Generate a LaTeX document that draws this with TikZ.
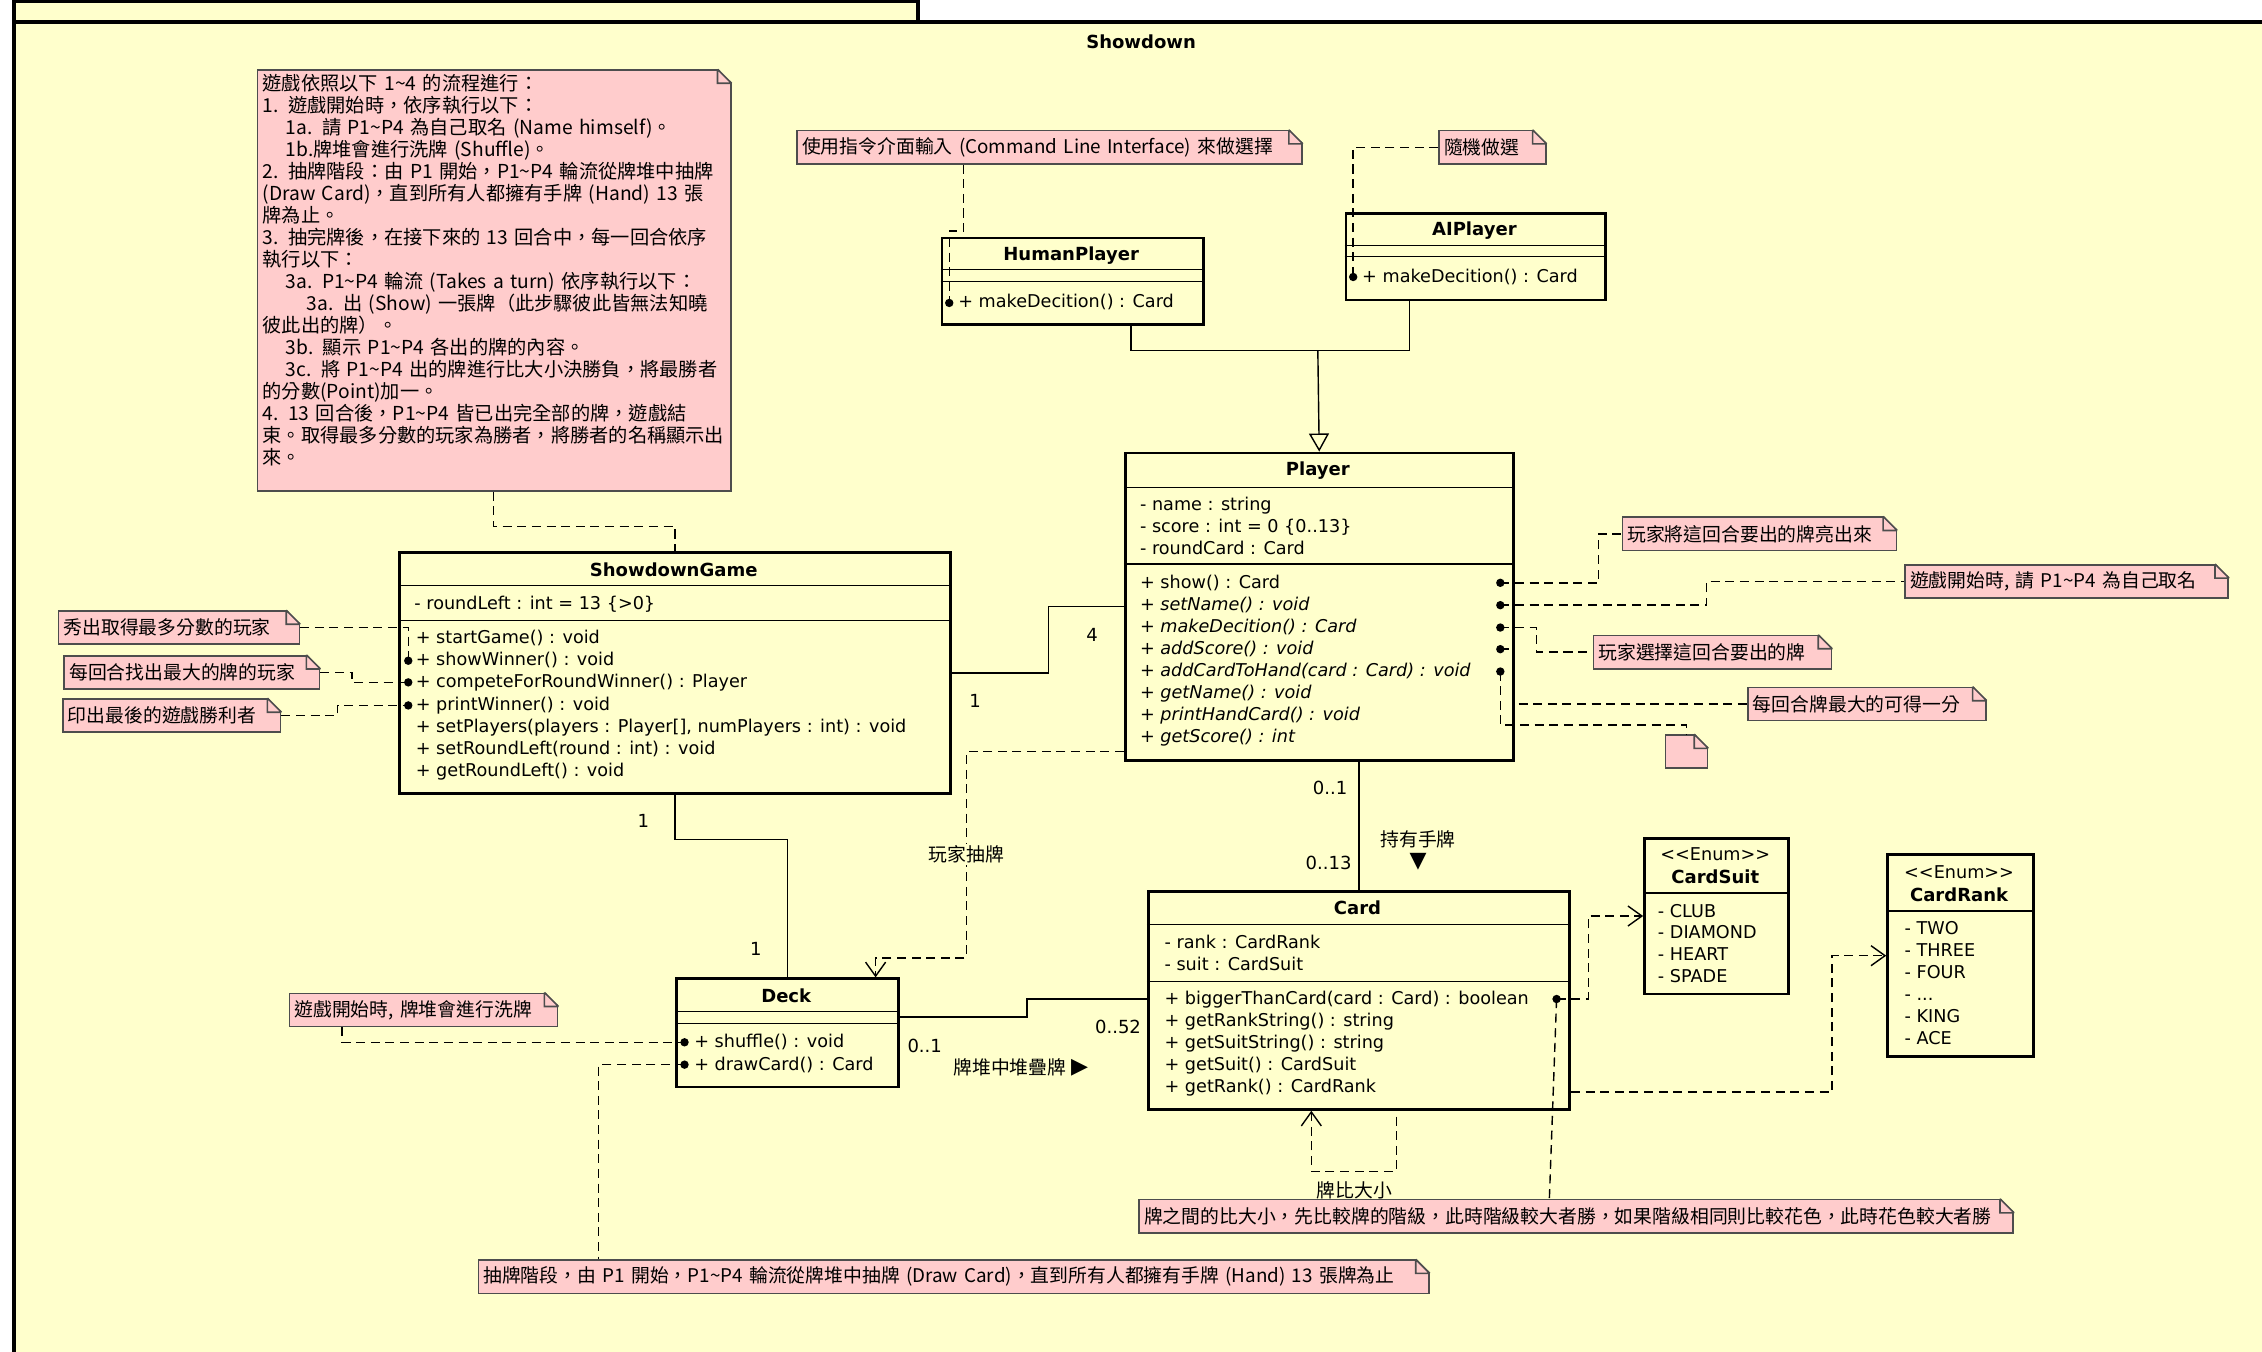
\documentclass[tikz,border=0pt]{standalone}
\usepackage{fontspec}
\setmainfont{Noto Sans CJK TC}
\newfontfamily\umlfont{DejaVu Sans}
\newfontfamily\symfont{DejaVu Sans}
\usepackage{tikz}
\usetikzlibrary{positioning, calc, arrows.meta}
\usepackage{xcolor}
\definecolor{umlbg}{HTML}{FFFFCC}
\definecolor{notefill}{HTML}{FFCCCC}
\definecolor{noteline}{HTML}{4D4D4D}
\newcommand{\ux}{0.72pt}
\newcommand{\tld}{\textasciitilde}
\newcommand{\dogear}[1]{%
  \fill[umlbg] ($(#1.north east)+(-7pt,0.6pt)$) -- ($(#1.north east)+(0.6pt,0.6pt)$) -- ($(#1.north east)+(0.6pt,-7pt)$) -- cycle;
  \draw[noteline, line width=0.8pt] ($(#1.north east)+(-7pt,0pt)$) -- ($(#1.north east)+(0pt,-7pt)$)
    ($(#1.north east)+(-7pt,0pt)$) -- ++(0pt,-7pt) -- ++(7pt,0pt);}

\begin{document}
\begin{tikzpicture}[
    x=0.72pt, y=-0.72pt,
    every node/.style={font=\fontsize{9.4}{11}\selectfont},
    umlclass/.style={draw, line width=1.4pt, fill=umlbg, anchor=north west, inner sep=0pt},
    compsep/.style={line width=0.6pt},
    classname/.style={font=\umlfont\fontsize{9}{11}\selectfont\bfseries},
    member/.style={anchor=mid west, inner sep=0pt, font=\umlfont\fontsize{8.8}{11}\selectfont},
    dot/.style={circle, fill, inner sep=0pt, minimum size=4.2pt},
    note/.style={draw=noteline, line width=0.8pt, fill=notefill, anchor=north west, inner xsep=2.5pt, inner ysep=1pt, align=left, minimum height=23*\ux},
    link/.style={line width=0.7pt},
    attach/.style={line width=0.7pt, dash pattern=on 4.5pt off 2.8pt},
    depend/.style={attach, -{Straight Barb[length=7pt, width=10pt]}},
    lbl/.style={inner sep=1pt},
    mult/.style={inner sep=1pt, font=\umlfont\fontsize{9}{11}\selectfont},
    tri/.style={inner sep=0pt, font=\symfont\fontsize{11}{11}\selectfont},
]
\useasboundingbox (0,0) rectangle (1568,937);
\fill[white] (0,0) rectangle (1568,937);

% Package frame
\draw[line width=2pt, fill=umlbg] (10,1) rectangle (636,15);
\draw[line width=2pt, fill=umlbg] (10,15) rectangle (1600,960);
\node[classname] (frametitle) at (791,29) {Showdown};

% Notes
\node[note, text width=328*\ux-5pt, inner ysep=2pt, font=\fontsize{9.6}{11}\selectfont] (nrules) at (178,48) {遊戲依照以下 1\tld4 的流程進行：\\
1. 遊戲開始時，依序執行以下：\\
\hspace*{11.5pt}1a. 請 P1\tld P4 為自己取名 (Name himself)。\\
\hspace*{11.5pt}1b.牌堆會進行洗牌 (Shuffle)。\\
2. 抽牌階段：由 P1 開始，P1\tld P4 輪流從牌堆中抽牌\\
(Draw Card)，直到所有人都擁有手牌 (Hand) 13 張\\
牌為止。\\
3. 抽完牌後，在接下來的 13 回合中，每一回合依序\\
執行以下：\\
\hspace*{11.5pt}3a. P1\tld P4 輪流 (Takes a turn) 依序執行以下：\\
\hspace*{22pt}3a. 出 (Show) 一張牌（此步驟彼此皆無法知曉\\
彼此出的牌）。\\
\hspace*{11.5pt}3b. 顯示 P1\tld P4 各出的牌的內容。\\
\hspace*{11.5pt}3c. 將 P1\tld P4 出的牌進行比大小決勝負，將最勝者\\
的分數(Point)加一。\\
4. 13 回合後，P1\tld P4 皆已出完全部的牌，遊戲結\\
束。取得最多分數的玩家為勝者，將勝者的名稱顯示出\\
來。\\
\mbox{}};
\dogear{nrules}
\node[note, text width=350*\ux-5pt] (ncli) at (552,90) {使用指令介面輸入 (Command Line Interface) 來做選擇};
\dogear{ncli}
\node[note, text width=74*\ux-5pt] (nrandom) at (997,90) {隨機做選};
\dogear{nrandom}
\node[note, text width=167*\ux-5pt] (nmost) at (40,423) {秀出取得最多分數的玩家};
\dogear{nmost}
\node[note, text width=177*\ux-5pt] (nfind) at (44,454) {每回合找出最大的牌的玩家};
\dogear{nfind}
\node[note, text width=151*\ux-5pt] (nprint) at (43,484) {印出最後的遊戲勝利者};
\dogear{nprint}
\node[note, text width=190*\ux-5pt] (nshowcard) at (1124,358) {玩家將這回合要出的牌亮出來};
\dogear{nshowcard}
\node[note, text width=224*\ux-5pt] (nname) at (1320,391) {遊戲開始時, 請 P1\tld P4 為自己取名};
\dogear{nname}
\node[note, text width=165*\ux-5pt] (nchoose) at (1104,440) {玩家選擇這回合要出的牌};
\dogear{nchoose}
\node[note, text width=165*\ux-5pt] (npoint) at (1211,476) {每回合牌最大的可得一分};
\dogear{npoint}
\node[note, text width=29*\ux-5pt] (nempty) at (1154,509) {};
\dogear{nempty}
\node[note, text width=186*\ux-5pt] (nshuffle) at (200,688) {遊戲開始時, 牌堆會進行洗牌};
\dogear{nshuffle}
\node[note, text width=659*\ux-5pt] (ndraw) at (331,873) {抽牌階段，由 P1 開始，P1\tld P4 輪流從牌堆中抽牌 (Draw Card)，直到所有人都擁有手牌 (Hand) 13 張牌為止};
\dogear{ndraw}
\node[note, text width=606*\ux-5pt] (ncompare) at (789,831) {牌之間的比大小，先比較牌的階級，此時階級較大者勝，如果階級相同則比較花色，此時花色較大者勝};
\dogear{ncompare}

% ShowdownGame
\node[umlclass, minimum width=382*\ux, minimum height=167*\ux] (game) at (276,382) {};
\node[classname] at (467,395) {ShowdownGame};
\draw[compsep] (276,406) -- (658,406) (276,430) -- (658,430);
\node[member] at (287,419) {- roundLeft : int = 13 \{>0\}};
\foreach \m [count=\i from 0] in {{+ startGame() : void}, {+ showWinner() : void}, {+ competeForRoundWinner() : Player}, {+ printWinner() : void}, {+ setPlayers(players : Player[], numPlayers : int) : void}, {+ setRoundLeft(round : int) : void}, {+ getRoundLeft() : void}}
  \node[member] at (288,{442.5+15.3*\i}) {\m};
\node[dot] (dshowwin) at (283,458) {};
\node[dot] (dcompete) at (283,473) {};
\node[dot] (dprint) at (283,489) {};

% HumanPlayer and AIPlayer
\node[umlclass, minimum width=181*\ux, minimum height=60*\ux] (human) at (652,164) {};
\node[classname] at (742.5,177) {HumanPlayer};
\draw[compsep] (652,187) -- (833,187) (652,195) -- (833,195);
\node[member] at (664,209.5) {+ makeDecition() : Card};
\node[dot] (dhuman) at (658,210) {};

\node[umlclass, minimum width=180*\ux, minimum height=60*\ux] (ai) at (932,147) {};
\node[classname] at (1022,160) {AIPlayer};
\draw[compsep] (932,170) -- (1112,170) (932,178) -- (1112,178);
\node[member] at (944,192) {+ makeDecition() : Card};
\node[dot] (dai) at (938,192) {};

% Player
\node[umlclass, minimum width=269*\ux, minimum height=213*\ux] (player) at (779,313) {};
\node[classname] at (913.5,326) {Player};
\draw[compsep] (779,338) -- (1048,338) (779,391) -- (1048,391);
\foreach \m [count=\i from 0] in {{- name : string}, {- score : int = 0 \{0..13\}}, {- roundCard : Card}}
  \node[member] at (790,{350+15.2*\i}) {\m};
\foreach \m [count=\i from 0] in {{+ show() : Card}, {\itshape + setName() : void}, {\itshape + makeDecition() : Card}, {\itshape + addScore() : void}, {\itshape + addCardToHand(card : Card) : void}, {\itshape + getName() : void}, {\itshape + printHandCard() : void}, {\itshape + getScore() : int}}
  \node[member] at (790,{404+15.3*\i}) {\m};
\node[dot] (dshow) at (1040,404) {};
\node[dot] (dsetname) at (1040,419.5) {};
\node[dot] (dmake) at (1040,435) {};
\node[dot] (daddscore) at (1040,450) {};
\node[dot] (daddcard) at (1040,465.5) {};

% Deck
\node[umlclass, minimum width=154*\ux, minimum height=75*\ux] (deck) at (468,677.5) {};
\node[classname] at (545,690) {Deck};
\draw[compsep] (468,701) -- (622,701) (468,709.5) -- (622,709.5);
\node[member] at (481,722.5) {+ shuffle() : void};
\node[member] at (481,738) {+ drawCard() : Card};
\node[dot] (dshuffle) at (474.5,722.5) {};
\node[dot] (ddraw) at (474.5,738) {};

% Card
\node[umlclass, minimum width=292*\ux, minimum height=151*\ux] (card) at (795,617) {};
\node[classname] at (941,629) {Card};
\draw[compsep] (795,641) -- (1087,641) (795,680.5) -- (1087,680.5);
\node[member] at (807,653.5) {- rank : CardRank};
\node[member] at (807,669) {- suit : CardSuit};
\foreach \m [count=\i from 0] in {{+ biggerThanCard(card : Card) : boolean}, {+ getRankString() : string}, {+ getSuitString() : string}, {+ getSuit() : CardSuit}, {+ getRank() : CardRank}}
  \node[member] at (807,{692.5+15.2*\i}) {\m};
\node[dot] (dbigger) at (1079,692.5) {};

% Enums
\node[umlclass, minimum width=100*\ux, minimum height=108*\ux] (suit) at (1139,580) {};
\node[member, anchor=mid] at (1189,593) {<{}<Enum>{}>};
\node[classname] at (1189,608) {CardSuit};
\draw[compsep] (1139,619) -- (1239,619);
\foreach \m [count=\i from 0] in {CLUB, DIAMOND, HEART, SPADE}
  \node[member] at (1149,{632+15*\i}) {- \m};

\node[umlclass, minimum width=101*\ux, minimum height=140*\ux] (rank) at (1307.5,591.5) {};
\node[member, anchor=mid] at (1358,605) {<{}<Enum>{}>};
\node[classname] at (1358,620) {CardRank};
\draw[compsep] (1307.5,631.5) -- (1408.5,631.5);
\foreach \m [count=\i from 0] in {TWO, THREE, FOUR, {.{}.{}.}, KING, ACE}
  \node[member] at (1320,{644+15.2*\i}) {- \m};

% Generalization
\coordinate (genjoin) at (913.5,243);
\draw[link] ($(human.south west)+(132,0)$) |- (genjoin);
\draw[link] ($(ai.south west)+(45,0)$) |- (genjoin);
\draw[link, -{Triangle[fill=umlbg, length=9pt, width=10pt]}] (genjoin) -- (player.north);

% Associations
\draw[link] (game.east) -- ++(67,0) |- (player.west);
\draw[link] (game.south) -- ++(0,31) -| (deck.north);
\draw[link] (card.north |- player.south) -- (card.north);
\draw[link] ($(deck.north east)+(0,27.5)$) -- ++(88,0) |- ($(card.north west)+(0,75.5)$);
\node[mult] (m4) at (757,440) {4};
\node[mult] (m1a) at (676,486) {1};
\node[mult] (m1b) at (446,569) {1};
\node[mult] (m1c) at (524,658) {1};
\node[mult] (m01a) at (641,725) {0..1};
\node[mult] (m052) at (775,712) {0..52};
\node[mult] (m01b) at (922,546) {0..1};
\node[mult] (m013) at (921,598) {0..13};
\node[lbl] (lhold) at (983,582) {持有手牌};
\node[tri, below=1pt of lhold] (lholdtri) {▼};
\node[lbl] (lstack) at (700,740) {牌堆中堆疊牌};
\node[tri, right=1pt of lstack] (lstacktri) {▶};

% Dependencies
\draw[depend] ($(player.south west)+(0,-7)$) -- ++(-109,0) -- node[lbl, fill=umlbg] {玩家抽牌} ++(0,143) -| ($(deck.north east)+(-17,0)$);
\draw[depend] (dbigger.center) -- ++(22,0) |- (suit.west);
\draw[depend] ($(card.south east)+(0,-13)$) -- ++(181,0) |- (rank.west);
\draw[depend] ($(card.south west)+(173,4)$) -- ++(0,38) -| ($(card.south west)+(114,0)$);
\node[lbl] (lcompare) at (939,825) {牌比大小};

% Note anchors
\draw[attach] (nrules.south west) ++(164,0) -- ++(0,24) -| (game.north);
\draw[attach] (ncli.south west) ++(116,0) -- ++(0,46) -| (dhuman.center);
\draw[attach] (nrandom.west) -| (dai.center);
\draw[attach] (nmost.east) -| (dshowwin.center);
\draw[attach] (nfind.east) -- ++(22,0) |- (dcompete.center);
\draw[attach] (nprint.east) -- ++(39,0) |- (dprint.center);
\draw[attach] (dshow.center) -- ++(68,0) |- (nshowcard.west);
\draw[attach] (dsetname.center) -- ++(143,0) |- (nname.west);
\draw[attach] (dmake.center) -- ++(25,0) |- (nchoose.west);
\draw[attach] (daddscore.center) -- ++(10,0) |- (npoint.west);
\draw[attach] (daddcard.center) -- ++(0,37) -| (nempty.north);
\draw[attach] ($(nshuffle.south west)+(37,0)$) |- (dshuffle.center);
\draw[attach] (ddraw.center) -| ($(ndraw.north west)+(84,0)$);
\draw[attach] (dbigger.center) -- ($(ncompare.north west)+(285,0)$);

\end{tikzpicture}
\end{document}
